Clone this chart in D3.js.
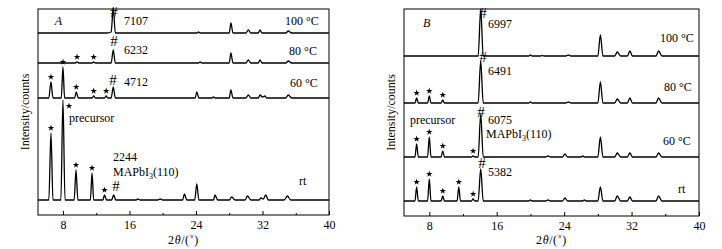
<!DOCTYPE html>
<html>
<head>
<meta charset="utf-8">
<script src="https://cdn.jsdelivr.net/npm/d3@7"></script>
<style>
  body { margin: 0; background: #fff; }
  text { font-family: "Liberation Serif", "Times New Roman", serif; fill: #000; }
</style>
</head>
<body>
<div id="chart"></div>
<script>
// ---- data (2theta in degrees, intensity in arbitrary units above each trace's baseline)
const xTicks = [8, 16, 24, 32, 40];
const xMinorTicks = [12, 20, 28, 36];
const traceNames = ["rt", "60 °C", "80 °C", "100 °C"];

// Panel A
const rtA = [[5,0],[6.3,0],[6.56,67],[6.8,0],[7.75,0],[8.0,100],[8.25,0],[9.35,0],[9.57,30],[9.8,0],
  [11.3,0],[11.5,27],[11.7,0],[12.8,0],[13.0,5],[13.25,0],[13.85,0],[14.1,5],[14.35,0],[16.8,0],[17.0,1],[17.3,0],
  [19.4,0],[19.7,1],[20.0,0],[22.4,0],[22.6,6],[22.9,0],[23.85,0],[24.1,16],[24.35,0],[26.1,0],[26.3,5],[26.6,0],
  [28.0,0],[28.3,3],[28.7,0],[29.9,0],[30.2,4],[30.6,0],[31.6,0],[31.8,2],[32.1,1],[32.4,5],[32.7,0],
  [34.6,0],[35.0,4],[35.4,0],[40,0]];
const c60A = [[5,0],[6.3,0],[6.56,16],[6.8,0],[7.8,0],[8.0,31],[8.2,0],[9.4,0],[9.6,6],[9.85,0],
  [11.5,0],[11.7,2],[11.9,0],[13.0,0],[13.2,2],[13.4,0],[13.8,0],[14.05,11],[14.3,0],[23.9,0],[24.1,6],[24.35,0],
  [25.9,0],[26.1,1],[26.3,0],[28.0,0],[28.2,8],[28.45,0],[30.0,0],[30.3,3],[30.6,0],[31.5,0],[31.7,3],[32.0,1],
  [32.3,2],[32.5,0],[34.8,0],[35.1,3],[35.5,0],[40,0]];
const c80A = [[5,0],[9.5,0],[9.7,1],[9.9,0],[11.5,0],[11.7,1],[11.9,0],[13.8,0],[14.05,13],[14.3,0],
  [24.3,0],[24.5,1],[24.7,0],[28.0,0],[28.2,10],[28.45,0],[30.0,0],[30.3,3],[30.6,0],[31.5,0],[31.7,3],[31.95,0],
  [34.8,0],[35.1,2],[35.5,0],[40,0]];
const c100A = [[5,0],[13.3,0],[13.8,1],[14.05,25],[14.3,0],[24.1,0],[24.3,1],[24.5,0],[28.0,0],[28.2,10],[28.45,0],
  [30.0,0],[30.3,3],[30.6,0],[31.5,0],[31.7,3],[31.95,0],[34.8,0],[35.1,2],[35.5,0],[40,0]];
const baselineA = [15, 117, 152, 182];
const countsA = [2244, 4712, 6232, 7107];
const starsA = [[6.56, 9.57, 11.5, 13.0], [6.56, 8.0, 9.6, 11.7, 13.2], [9.7, 11.7], []];

// Panel B
const rtB = [[5,0],[6.3,0],[6.5,14],[6.7,0],[7.8,0],[8.0,22],[8.2,0],[9.4,0],[9.6,5],[9.8,0],[11.3,0],[11.5,14],[11.7,0],
  [13.0,0],[13.2,2],[13.4,0],[13.8,0],[14.1,32],[14.4,0],[19.8,0],[20.0,1],[20.2,0],[21.8,0],[22.1,1],[22.4,0],
  [23.8,0],[24.1,3],[24.4,0],[26.2,0],[26.4,1],[26.6,0],[28.0,0],[28.3,14],[28.6,0],[30.0,0],[30.3,5],[30.7,0],
  [31.5,0],[31.8,4],[32.1,0],[34.9,0],[35.2,5],[35.6,0],[40,0]];
const c60B = [[5,0],[6.3,0],[6.5,13],[6.7,0],[7.8,0],[8.0,20],[8.2,0],[9.4,0],[9.6,6],[9.8,0],[13.0,0],[13.2,1],[13.4,0],
  [13.8,0],[14.1,43],[14.4,0],[21.8,0],[22.1,1],[22.4,0],[23.8,0],[24.1,3],[24.4,0],[26.0,0],[26.2,1],[26.4,0],
  [28.0,0],[28.3,20],[28.6,0],[30.0,0],[30.3,4],[30.7,0],[31.5,0],[31.8,4],[32.1,0],[34.9,0],[35.2,4],[35.6,0],[40,0]];
const c80B = [[5,0],[6.3,0],[6.5,5],[6.7,0],[7.8,0],[8.0,7],[8.2,0],[9.4,0],[9.6,3],[9.8,0],[13.8,0],[14.1,42],[14.4,0],
  [19.8,0],[20.0,1],[20.2,0],[24.2,0],[24.5,1],[24.8,0],[28.0,0],[28.3,21],[28.6,0],[30.0,0],[30.3,4],[30.7,0],
  [31.5,0],[31.8,5],[32.1,0],[34.9,0],[35.2,5],[35.6,0],[40,0]];
const c100B = [[5,0],[13.8,0],[14.1,47],[14.4,0],[19.8,0],[20.0,1],[20.2,0],[21.2,0],[21.4,0.5],[21.6,0],[24.2,0],[24.5,1],
  [24.8,0],[28.0,0],[28.3,21],[28.6,0],[30.0,0],[30.3,4],[30.7,0],[31.5,0],[31.8,5],[32.1,0],[34.9,0],[35.2,5],[35.6,0],[40,0]];
const baselineB = [15, 59, 113, 160];
const countsB = [5382, 6075, 6491, 6997];
const starsB = [[6.5, 8.0, 9.6, 11.5, 13.2], [6.5, 8.0, 9.6, 13.2], [6.5, 8.0, 9.6], []];

const svg = d3.select("#chart").append("svg")
  .attr("width", 722)
  .attr("height", 249);

const star = d3.symbol().type(d3.symbolStar).size(13);

// frame & annotation layout per panel: [2theta, units]
const panels = [
  {
    left: 38, right: 329, top: 9, bottom: 215, yMax: 206,
    traces: [rtA, c60A, c80A, c100A], base: baselineA, counts: countsA, stars: starsA,
    letter: "A", letterPos: [7.0, 190],
    hashPos: [[14.38, 24], [14.02, 130], [14.14, 169], [14.14, 198]],
    countPos: [[14.02, 54], [15.34, 129], [15.34, 161], [15.34, 190]],
    tempPos: [[36.4, 30], [35.3, 128], [35.2, 160], [34.7, 190]],
    mapPos: [14.02, 39], precPos: [8.73, 93], precStar: [8.73, 109],
    yLabelX: 25
  },
  {
    left: 404, right: 699, top: 9, bottom: 216, yMax: 207,
    traces: [rtB, c60B, c80B, c100B], base: baselineB, counts: countsB, stars: starsB,
    letter: "B", letterPos: [7.25, 189],
    hashPos: [[14.25, 48], [14.13, 99], [14.37, 154], [14.37, 198]],
    countPos: [[14.96, 40], [14.96, 92], [14.96, 141], [14.96, 188]],
    tempPos: [[37.5, 23], [35.72, 71], [35.84, 125], [35.37, 174]],
    mapPos: [14.73, 78], precPos: [5.71, 92], precStar: null,
    yLabelX: 391
  }
];

panels.forEach(p => {
  const g = svg.append("g");
  const x = d3.scaleLinear().domain([5, 40]).range([p.left, p.right]);
  const y = d3.scaleLinear().domain([0, p.yMax]).range([p.bottom, p.top]);

  // frame
  g.append("rect")
    .attr("x", p.left).attr("y", p.top)
    .attr("width", p.right - p.left).attr("height", p.bottom - p.top)
    .attr("fill", "none").attr("stroke", "#000").attr("stroke-width", 1);

  // ticks pointing inward
  g.append("g")
    .attr("transform", `translate(0,${p.bottom})`)
    .call(d3.axisBottom(x).tickValues(xTicks).tickSizeInner(-4).tickSizeOuter(0).tickPadding(5))
    .call(a => a.select(".domain").remove())
    .call(a => a.selectAll("text").attr("font-size", 12));
  g.append("g")
    .attr("transform", `translate(0,${p.bottom})`)
    .call(d3.axisBottom(x).tickValues(xMinorTicks).tickSizeInner(-2).tickSizeOuter(0).tickFormat(""))
    .call(a => a.select(".domain").remove());

  // traces
  p.traces.forEach((tr, i) => {
    const line = d3.line()
      .x(d => x(d[0]))
      .y(d => y(d[1] + p.base[i]))
      .curve(d3.curveMonotoneX);
    g.append("path")
      .datum(tr)
      .attr("d", line)
      .attr("fill", "none")
      .attr("stroke", "#000")
      .attr("stroke-width", 1.3);

    // stars above marked peaks
    p.stars[i].forEach(s => {
      const pt = tr.find(d => d[0] === s);
      g.append("path")
        .attr("d", star)
        .attr("transform", `translate(${x(s)},${y(pt[1] + p.base[i]) - 5})`)
        .attr("fill", "#000");
    });

    g.append("text")
      .attr("x", x(p.hashPos[i][0])).attr("y", y(p.hashPos[i][1]))
      .attr("text-anchor", "middle")
      .attr("font-size", 15)
      .text("#");
    g.append("text")
      .attr("x", x(p.countPos[i][0])).attr("y", y(p.countPos[i][1]))
      .attr("font-size", 12)
      .text(p.counts[i]);
    g.append("text")
      .attr("x", x(p.tempPos[i][0])).attr("y", y(p.tempPos[i][1]))
      .attr("font-size", 12)
      .text(traceNames[i]);
  });

  g.append("text")
    .attr("x", x(p.letterPos[0])).attr("y", y(p.letterPos[1]))
    .attr("font-size", 12).attr("font-style", "italic")
    .text(p.letter);

  const mp = g.append("text")
    .attr("x", x(p.mapPos[0])).attr("y", y(p.mapPos[1]))
    .attr("font-size", 12);
  mp.append("tspan").text("MAPbI");
  mp.append("tspan").attr("font-size", 8).attr("dy", 3).text("3");
  mp.append("tspan").attr("dy", -3).text("(110)");

  g.append("text")
    .attr("x", x(p.precPos[0])).attr("y", y(p.precPos[1]))
    .attr("font-size", 12)
    .text("precursor");
  if (p.precStar) {
    g.append("path")
      .attr("d", star)
      .attr("transform", `translate(${x(p.precStar[0])},${y(p.precStar[1])})`)
      .attr("fill", "#000");
  }

  // axis titles
  const xt = g.append("text")
    .attr("x", (p.left + p.right) / 2).attr("y", 244)
    .attr("text-anchor", "middle")
    .attr("font-size", 12)
    .attr("letter-spacing", 0.6);
  xt.append("tspan").text("2");
  xt.append("tspan").attr("font-style", "italic").text("θ");
  xt.append("tspan").text("/(˚)");

  g.append("text")
    .attr("transform", `translate(${p.yLabelX},${(p.top + p.bottom) / 2}) rotate(-90)`)
    .attr("text-anchor", "middle")
    .attr("dy", "0.35em")
    .attr("font-size", 12)
    .text("Intensity/counts");
});
</script>
</body>
</html>
